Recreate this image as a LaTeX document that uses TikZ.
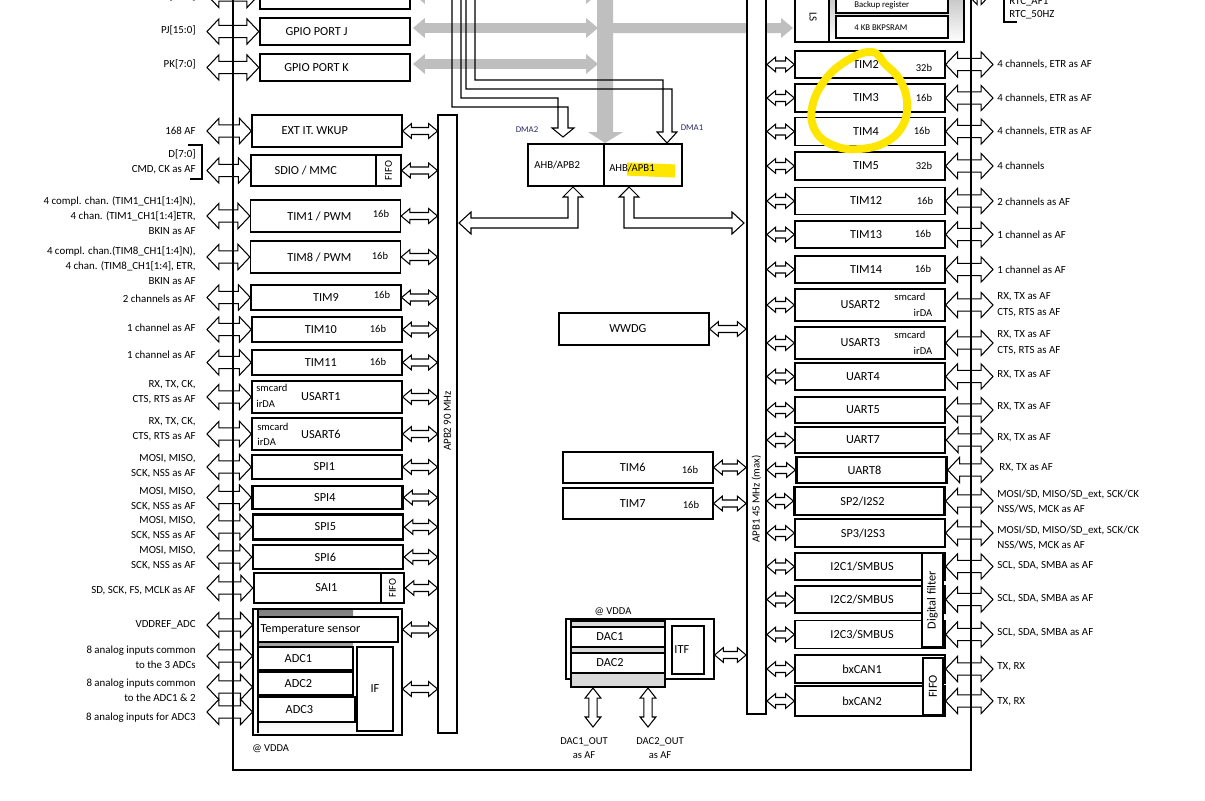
\documentclass[tikz,border=0pt]{standalone}
\usepackage{fontspec}
\setmainfont{Carlito}
\usetikzlibrary{calc}

\definecolor{hilite}{RGB}{255,230,0}
\definecolor{shade}{RGB}{217,217,217}
\definecolor{ahbgray}{RGB}{191,191,191}
\definecolor{dmablue}{RGB}{40,40,100}

\tikzset{
  blk/.style={draw,fill=white,line width=0.7pt,inner sep=0pt,font=\fontsize{7}{8}\selectfont},
  thk/.style={blk,line width=1.3pt},
  sz/.style 2 args={minimum width=#1*0.02cm,minimum height=#2*0.02cm},
  wd/.style={sz={150}{#1}},
  pinl/.style={font=\fontsize{6.2}{8.6}\selectfont,inner sep=0pt,align=right,anchor=east},
  pinr/.style={font=\fontsize{6.2}{9}\selectfont,inner sep=0pt,align=left,anchor=west},
  bitw/.style={font=\fontsize{6}{7}\selectfont,inner sep=0pt},
  mini/.style={font=\fontsize{5}{6}\selectfont,inner sep=0pt},
  vtxt/.style={inner sep=0pt,rotate=90,font=\fontsize{6.2}{7}\selectfont},
  arrowbody/.style={draw,fill=white,line width=0.6pt},
  ahb/.style={fill=ahbgray,draw=none},
  bus/.style={line width=1.7pt},
  pen/.style={draw=hilite,line cap=round,line join=round},
}

% trailing pad that moves a box text to the left
\newcommand\pad[1]{\hspace{#1}\mbox{}}
% hollow double arrows: style, head length, head half height, shaft half height, from, to
\newcommand\harrow[6]{\draw[#1] let \p1=(#5), \p2=(#6) in
  (\x1,\y1) -- (\x1+#2,\y1+#3) -- (\x1+#2,\y1+#4) -- (\x2-#2,\y1+#4) -- (\x2-#2,\y1+#3) -- (\x2,\y1)
  -- (\x2-#2,\y1-#3) -- (\x2-#2,\y1-#4) -- (\x1+#2,\y1-#4) -- (\x1+#2,\y1-#3) -- cycle;}
\newcommand\bigarr[2]{\harrow{arrowbody}{6.8pt}{7.2pt}{3.5pt}{#1}{#2}}
\newcommand\smallarr[2]{\harrow{arrowbody}{5pt}{4.2pt}{2pt}{#1}{#2}}
\newcommand\varrow[2]{\draw[arrowbody] let \p1=(#1), \p2=(#2) in
  (\x1,\y1) -- (\x1+4.5pt,\y1-5.7pt) -- (\x1+2.3pt,\y1-5.7pt) -- (\x1+2.3pt,\y2+5.7pt) -- (\x1+4.5pt,\y2+5.7pt) -- (\x1,\y2)
  -- (\x1-4.5pt,\y2+5.7pt) -- (\x1-2.3pt,\y2+5.7pt) -- (\x1-2.3pt,\y1-5.7pt) -- (\x1-4.5pt,\y1-5.7pt) -- cycle;}

\begin{document}
\begin{tikzpicture}[x=0.02cm,y=-0.02cm]
\useasboundingbox (0,0) rectangle (1205,801);
\clip (0,0) rectangle (1205,801);
\coordinate (lbus) at (233,770);
\coordinate (rbus) at (971,770);

% AHB bus matrix
\fill[ahbgray] (597,-20) -- (613,-20) -- (613,132) -- (623,132) -- (605,143) -- (588,132) -- (597,132) -- cycle;
\harrow{ahb}{6.8pt}{5.7pt}{2.8pt}{413,-6}{598,-6}
\harrow{ahb}{6.8pt}{5.7pt}{2.8pt}{413,28}{598,28}
\harrow{ahb}{6.8pt}{5.7pt}{2.8pt}{413,64}{598,64}
\fill[ahbgray] (613,23) -- (781,23) -- (781,18) -- (793,28) -- (781,38) -- (781,33) -- (613,33) -- cycle;

% DMA paths
\draw[line width=0.6pt] (452,-20) -- (452,107) -- (568,107) -- (568,128) -- (574,128) -- (563,137) -- (552,128) -- (558,128) -- (558,98) -- (461,98) -- (461,-20);
\draw[line width=0.6pt] (466,-20) -- (466,89) -- (672,89) -- (672,132) -- (677,132) -- (667,143) -- (657,132) -- (663,132) -- (663,80) -- (475,80) -- (475,-20);

% bridges
\node[blk,sz={76}{42},font=\fontsize{6.1}{7}\selectfont] (ahb2) at (566,165) {AHB/APB2\pad{10pt}};
\node[blk,sz={78}{42}] (ahb1) at (643,165) {};
\draw[pen,line width=7.5pt,line cap=butt] (627,169) -- (675,171);
\node[inner sep=0pt,font=\fontsize{6.1}{7}\selectfont] (ahb1t) at (632,168) {AHB/APB1};
\node[mini,text=dmablue] (dma2) at (527,130) {DMA2};
\node[mini,text=dmablue] (dma1) at (692,128) {DMA1};

% APB buses
\node[draw,fill=white,line width=0.6pt,sz={19}{618}] (apbtwo) at (447.5,424) {};
\node[vtxt] (apbtwot) at (447.5,421) {APB2 90 MHz};
\node[draw,fill=white,line width=1pt,sz={19}{740}] (apbone) at (756.5,344) {};
\node[vtxt] (apbonet) at (756.5,499) {APB1 45 MHz (max)};

% L-shaped bridge links
\draw[arrowbody] (573,187) -- (583,197) -- (578,197) -- (578,228) -- (471,228) -- (471,234) -- (459,223) -- (471,212) -- (471,218) -- (568,218) -- (568,197) -- (563,197) -- cycle;
\draw[arrowbody] (629,187) -- (639,197) -- (634,197) -- (634,218) -- (732,218) -- (732,212) -- (744,223) -- (732,234) -- (732,228) -- (624,228) -- (624,197) -- (619,197) -- cycle;

% APB2 peripherals
\node[thk,wd=28] (gpioi) at (335,-5) {GPIO PORT I\pad{21pt}};
\node[thk,wd=27] (gpioj) at (335,31.5) {GPIO PORT J\pad{21pt}};
\node[thk,wd=27] (gpiok) at (335,67.5) {GPIO PORT K\pad{21pt}};
\node[blk,wd=32] (extit) at (327,131) {EXT IT. WKUP\pad{14pt}};
\node[blk,wd=31] (sdio) at (326,170.5) {SDIO / MMC\pad{23pt}};
\node[blk,rotate=90,sz={31}{25},font=\fontsize{6}{7}\selectfont] (sdiofifo) at (388.5,170.5) {FIFO};
\node[blk,wd=32] (tim1) at (325.5,216) {TIM1 / PWM\pad{7pt}};
\node[bitw] (tim1b) at (381,214) {16b};
\node[blk,wd=32] (tim8) at (325.5,257) {TIM8 / PWM\pad{7pt}};
\node[bitw] (tim8b) at (380,256) {16b};
\node[blk,wd=25] (tim9) at (326,297.5) {TIM9};
\node[bitw] (tim9b) at (382,295) {16b};
\node[blk,wd=25] (tim10) at (327,329.5) {TIM10\pad{7pt}};
\node[bitw] (tim10b) at (378,329) {16b};
\node[blk,wd=25] (tim11) at (327,362.5) {TIM11\pad{7pt}};
\node[bitw] (tim11b) at (378,362) {16b};
\node[blk,wd=32] (usart1) at (327,397) {USART1\pad{7pt}};
\node[bitw,anchor=west] (usart1s) at (256,388) {smcard};
\node[bitw,anchor=west] (usart1i) at (256,404) {irDA};
\node[blk,wd=32] (usart6) at (327,434) {USART6\pad{7pt}};
\node[bitw,anchor=west] (usart6s) at (257,427) {smcard};
\node[bitw,anchor=west] (usart6i) at (257,442) {irDA};
\node[blk,wd=24] (spi1) at (327,467) {SPI1\pad{3pt}};
\node[thk,wd=23] (spi4) at (327.5,497.5) {SPI4\pad{3pt}};
\node[thk,wd=25] (spi5) at (328,527) {SPI5\pad{3pt}};
\node[thk,wd=24] (spi6) at (328,557) {SPI6\pad{3pt}};
\node[thk,wd=30] (sai1) at (329,588) {SAI1\pad{3pt}};
\node[thk,rotate=90,sz={30}{23},font=\fontsize{6}{7}\selectfont] (saififo) at (392.5,588) {FIFO};

% ADC block
\node[draw,line width=0.6pt,sz={149}{126}] (adcblk) at (327.5,672) {};
\fill[shade] (258,610) rectangle (353,733);
\draw[line width=1pt] (258,610) -- (258,733);
\node[blk,sz={140}{25}] (temp) at (328,629.5) {Temperature sensor\pad{20pt}};
\node[blk,sz={95}{23}] (adc1) at (305.5,658.5) {ADC1\pad{8pt}};
\node[blk,sz={95}{23}] (adc2) at (305.5,683.5) {ADC2\pad{8pt}};
\node[blk,sz={97}{25}] (adc3) at (306.5,709.5) {ADC3\pad{8pt}};
\node[blk,sz={36}{84}] (adcif) at (375,689) {IF};
\node[bitw,anchor=west] (vdda) at (252,749) {@ VDDA};

% APB2 pin labels
\node[pinl] (pil) at (196,-4) {PI[11:0]};
\node[pinl] (pjl) at (196,30) {PJ[15:0]};
\node[pinl] (pkl) at (196,64) {PK[7:0]};
\node[pinl] (extl) at (196,131) {168 AF};
\node[pinl] (sdiol) at (196,162) {D[7:0]\\CMD, CK as AF};
\draw[line width=0.6pt] (188,145) -- (202,145) -- (202,179) -- (190,179);
\node[pinl] (tim1l) at (196,215.5) {4 compl. chan. (TIM1\_CH1[1:4]N),\\4 chan. (TIM1\_CH1[1:4]ETR,\\BKIN as AF};
\node[pinl] (tim8l) at (196,265.5) {4 compl. chan.(TIM8\_CH1[1:4]N),\\4 chan. (TIM8\_CH1[1:4], ETR,\\BKIN as AF};
\node[pinl] (tim9l) at (196,299) {2 channels as AF};
\node[pinl] (tim10l) at (196,328) {1 channel as AF};
\node[pinl] (tim11l) at (196,355) {1 channel as AF};
\node[pinl] (usart1l) at (196,392) {RX, TX, CK,\\CTS, RTS as AF};
\node[pinl] (usart6l) at (196,429) {RX, TX, CK,\\CTS, RTS as AF};
\node[pinl] (spi1l) at (196,466.5) {MOSI, MISO,\\SCK, NSS as AF};
\node[pinl] (spi4l) at (196,499) {MOSI, MISO,\\SCK, NSS as AF};
\node[pinl] (spi5l) at (196,528) {MOSI, MISO,\\SCK, NSS as AF};
\node[pinl] (spi6l) at (196,558) {MOSI, MISO,\\SCK, NSS as AF};
\node[pinl] (sai1l) at (196,591) {SD, SCK, FS, MCLK as AF};
\node[pinl] (vrefl) at (196,625) {VDDREF\_ADC};
\node[pinl] (ain1l) at (196,657.5) {8 analog inputs common\\to the 3 ADCs};
\node[pinl] (ain2l) at (196,690) {8 analog inputs common\\to the ADC1 \& 2};
\node[pinl] (ain3l) at (196,718) {8 analog inputs for ADC3};

% APB1 side, middle
\node[blk,wd=32] (wwdg) at (634,329) {WWDG\pad{7pt}};
\node[blk,wd=31] (tim6) at (638,467.5) {TIM6\pad{6pt}};
\node[bitw] (tim6b) at (690,470) {16b};
\node[blk,wd=31] (tim7) at (638,503.5) {TIM7\pad{6pt}};
\node[bitw] (tim7b) at (691,505) {16b};
\node[draw,line width=0.7pt,sz={148}{60}] (dacblk) at (640,649) {};
\node[draw,fill=shade,line width=1.2pt,sz={94}{66}] (dacgray) at (618,654) {};
\node[blk,sz={94}{20}] (dac1) at (618,637) {DAC1\pad{9pt}};
\node[blk,sz={94}{20}] (dac2) at (618,663) {DAC2\pad{9pt}};
\node[blk,line width=1.2pt,sz={32}{48}] (itf) at (688,650) {ITF\pad{7pt}};
\node[bitw] (dacvdda) at (613,612) {@ VDDA};
\coordinate (dout1) at (593,727);
\coordinate (dout2) at (648,727);
\coordinate (dacio) at (745,655);
\node[bitw,align=center] (dout1l) at (584,748) {DAC1\_OUT\\[1pt]as AF};
\node[bitw,align=center] (dout2l) at (660,748) {DAC2\_OUT\\[1pt]as AF};

% backup domain
\fill[shade] (829,-60) rectangle (964,42);
\node[draw,line width=1.4pt,sz={169}{102}] (rtc) at (879.5,-9) {};
\draw[line width=1pt] (829,-60) -- (829,42);
\node[draw,fill=white,line width=1.2pt,sz={112}{25}] (bkreg) at (892,0.5) {};
\node[mini,anchor=west] (bkregt) at (854,5) {Backup register};
\node[draw,fill=white,line width=1.2pt,sz={112}{22}] (bkram) at (892,27) {};
\node[mini,anchor=west] (bkramt) at (854,28) {4 KB BKPSRAM};
\node[vtxt,rotate=180] (lsl) at (813,17) {LS};
\coordinate (rtcio) at (993,-8);
\node[pinr] (rtcaf) at (1009,2) {RTC\_AF1};
\node[pinr] (rtchz) at (1009,15) {RTC\_50HZ};
\draw[line width=0.6pt] (1004,-20) -- (1004,22) -- (1017,22);

% APB1 peripherals
\node[blk,wd=27] (tim2) at (870,64.5) {TIM2\pad{4.5pt}};
\node[bitw] (tim2b) at (924,68) {32b};
\node[blk,wd=28] (tim3) at (870,98) {TIM3\pad{4.5pt}};
\node[bitw] (tim3b) at (924,98) {16b};
\node[blk,wd=28] (tim4) at (870,131.5) {TIM4\pad{4.5pt}};
\node[bitw] (tim4b) at (922,131) {16b};
\node[blk,wd=28] (tim5) at (870,166) {TIM5\pad{4.5pt}};
\node[bitw] (tim5b) at (924,166) {32b};
\node[blk,wd=27] (tim12) at (870,201) {TIM12\pad{4.5pt}};
\node[bitw] (tim12b) at (925,201) {16b};
\node[blk,wd=27] (tim13) at (870,234.5) {TIM13\pad{4.5pt}};
\node[bitw] (tim13b) at (923,234) {16b};
\node[blk,wd=27] (tim14) at (870,269.5) {TIM14\pad{4.5pt}};
\node[bitw] (tim14b) at (923,269) {16b};
\node[blk,wd=32] (usart2) at (870,305) {USART2\pad{11pt}};
\node[bitw] (usart2s) at (910,297) {smcard};
\node[bitw] (usart2i) at (923,313) {irDA};
\node[blk,wd=32] (usart3) at (870,343) {USART3\pad{11pt}};
\node[bitw] (usart3s) at (910,335) {smcard};
\node[bitw] (usart3i) at (923,351) {irDA};
\node[blk,wd=27] (uart4) at (870,376.5) {UART4\pad{8pt}};
\node[blk,wd=26] (uart5) at (870,410) {UART5\pad{8pt}};
\node[thk,wd=26] (uart7) at (870,440) {UART7\pad{8pt}};
\node[thk,wd=26] (uart8) at (871.5,470) {UART8\pad{8pt}};
\node[thk,wd=28] (sp2) at (869.5,501) {SP2/I2S2\pad{8pt}};
\node[blk,wd=28] (sp3) at (870,533) {SP3/I2S3\pad{8pt}};
\node[blk,wd=27] (i2c1) at (870,566.5) {I2C1/SMBUS\pad{9pt}};
\node[blk,wd=27] (i2c2) at (870,599.5) {I2C2/SMBUS\pad{9pt}};
\node[blk,wd=28] (i2c3) at (870,634.5) {I2C3/SMBUS\pad{9pt}};
\node[thk,rotate=90,sz={94}{21}] (dfilt) at (932.5,600) {Digital filter};
\node[blk,wd=28] (can1) at (870,669) {bxCAN1\pad{9pt}};
\node[blk,wd=30] (can2) at (870,701) {bxCAN2\pad{9pt}};
\node[thk,rotate=90,sz={57}{20}] (canfifo) at (933,686.5) {FIFO};

% APB1 pin labels
\node[pinr] (tim2l) at (997,64.5) {4 channels, ETR as AF};
\node[pinr] (tim3l) at (997,98.5) {4 channels, ETR as AF};
\node[pinr] (tim4l) at (997,131.5) {4 channels, ETR as AF};
\node[pinr] (tim5l) at (997,166) {4 channels};
\node[pinr] (tim12l) at (997,201.5) {2 channels as AF};
\node[pinr] (tim13l) at (997,234.5) {1 channel as AF};
\node[pinr] (tim14l) at (997,269.5) {1 channel as AF};
\node[pinr] (usart2l) at (997,305) {RX, TX as AF\\CTS, RTS as AF};
\node[pinr] (usart3l) at (997,343) {RX, TX as AF\\CTS, RTS as AF};
\node[pinr] (uart4l) at (997,374.5) {RX, TX as AF};
\node[pinr] (uart5l) at (997,406.5) {RX, TX as AF};
\node[pinr] (uart7l) at (997,437.5) {RX, TX as AF};
\node[pinr] (uart8l) at (999,468) {RX, TX as AF};
\node[pinr] (sp2l) at (997,502) {MOSI/SD, MISO/SD\_ext, SCK/CK\\NSS/WS, MCK as AF};
\node[pinr] (sp3l) at (997,538) {MOSI/SD, MISO/SD\_ext, SCK/CK\\NSS/WS, MCK as AF};
\node[pinr] (i2c1l) at (997,566) {SCL, SDA, SMBA as AF};
\node[pinr] (i2c2l) at (997,598.5) {SCL, SDA, SMBA as AF};
\node[pinr] (i2c3l) at (997,632.5) {SCL, SDA, SMBA as AF};
\node[pinr] (can1l) at (997,667) {TX, RX};
\node[pinr] (can2l) at (997,702) {TX, RX};

% links
\foreach \b in {gpioi,gpioj,gpiok,extit,sdio,tim1,tim8,tim9,tim10,tim11,usart1,usart6,spi1,spi4,spi5,spi6,sai1}
  {\bigarr{$(\b.west -| lbus)+(-26,0)$}{\b.west}}
\foreach \y in {625,656,687,712}
  {\coordinate (ainrow) at (233,\y);
   \bigarr{$(ainrow)+(-26,0)$}{ainrow -| adcblk.west}}
\foreach \b in {extit,sdio,tim1,tim8,tim9,tim10,tim11,usart1,usart6,spi1,spi4,spi5,spi6,sai1}
  {\smallarr{\b.east}{\b.east -| apbtwo.west}}
\smallarr{adcblk.east |- temp.center}{temp.center -| apbtwo.west}
\smallarr{adcblk.east |- adcif.center}{adcif.center -| apbtwo.west}
\foreach \b in {wwdg,tim6,tim7}
  {\smallarr{\b.east}{\b.east -| apbone.west}}
\smallarr{dacio -| dacblk.east}{dacio -| apbone.west}
\varrow{dout1 |- dacgray.south}{dout1}
\varrow{dout2 |- dacgray.south}{dout2}
\foreach \b in {tim2,tim3,tim4,tim5,tim12,tim13,tim14,usart2,usart3,uart4,uart5,uart7,uart8,sp2,sp3,i2c1,i2c2,i2c3,can1,can2}
  {\smallarr{\b.west -| apbone.east}{\b.west}
   \bigarr{\b.east}{$(\b.east -| rbus)+(22,0)$}}
\bigarr{rtcio -| rtc.east}{rtcio}

% system buses
\draw[bus] (233,-20) -- (lbus) -- (rbus) -- (971,-20);

% marker
\draw[pen,line width=4.5pt] plot[smooth cycle,tension=0.7] coordinates {(872,52) (848,60) (825,80) (812,108) (816,132) (835,146) (860,149) (886,142) (903,125) (907,102) (900,80) (885,64)};
\end{tikzpicture}
\end{document}
